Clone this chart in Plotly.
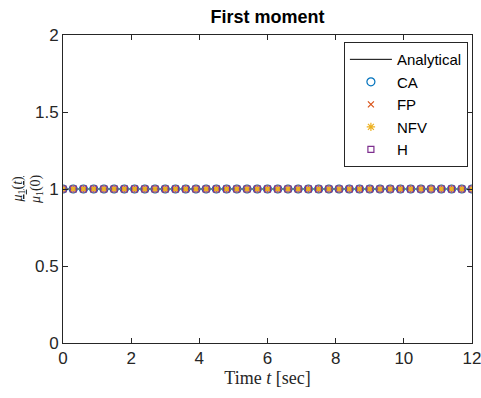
import plotly.graph_objects as go

t = [round(0.3 * i, 1) for i in range(41)]
analytical = [1.0] * len(t)
ca = [1.0] * len(t)
fp = [1.0] * len(t)
nfv = [1.0] * len(t)
h = [1.0] * len(t)

x_ticks = [0, 2, 4, 6, 8, 10, 12]
y_ticks = [0, 0.5, 1, 1.5, 2]
y_tick_text = ["0", "0.5", "1", "1.5", "2"]

fig = go.Figure()
fig.add_trace(go.Scatter(x=t, y=analytical, mode="lines", name="Analytical",
                         line=dict(color="black", width=1)))
fig.add_trace(go.Scatter(x=t, y=ca, mode="markers", name="CA",
                         marker=dict(symbol="circle-open", size=8, color="#0072BD",
                                     line=dict(width=1.2, color="#0072BD"))))
fig.add_trace(go.Scatter(x=t, y=fp, mode="markers", name="FP",
                         marker=dict(symbol="x-thin-open", size=6, color="#D95319",
                                     line=dict(width=1.2, color="#D95319"))))
fig.add_trace(go.Scatter(x=t, y=nfv, mode="markers", name="NFV",
                         marker=dict(symbol="asterisk-open", size=7, color="#EDB120",
                                     line=dict(width=1.2, color="#EDB120"))))
fig.add_trace(go.Scatter(x=t, y=h, mode="markers", name="H",
                         marker=dict(symbol="square-open", size=6, color="#7E2F8E",
                                     line=dict(width=1.2, color="#7E2F8E"))))

axis_common = dict(showgrid=False, zeroline=False, showline=True, linecolor="#262626",
                   linewidth=1, mirror="ticks", ticks="inside", ticklen=5,
                   tickcolor="#262626", automargin=False, ticklabeloverflow="allow",
                   tickfont=dict(family="Liberation Sans, Arial", size=17, color="#262626"))

fig.update_layout(
    width=481, height=398,
    margin=dict(l=63, r=9, t=35, b=55),
    paper_bgcolor="white", plot_bgcolor="white",
    title=dict(text="<b>First moment</b>", xref="paper", x=0.5, xanchor="center",
               yref="container", y=0.975, yanchor="top",
               font=dict(family="Liberation Sans, Arial", size=18, color="black")),
    showlegend=True,
    legend=dict(x=0.99, y=0.977, xanchor="right", yanchor="top",
                bordercolor="#262626", borderwidth=1, bgcolor="white",
                font=dict(family="Liberation Sans, Arial", size=15, color="black"),
                itemwidth=42, tracegroupgap=0),
    xaxis=dict(range=[0, 12], tickvals=x_ticks,
               title=dict(text="Time <i>t</i> [sec]", standoff=2,
                          font=dict(family="Liberation Serif, Times New Roman", size=18,
                                    color="#262626")),
               **axis_common),
    yaxis=dict(range=[0, 2], tickvals=y_ticks, ticktext=y_tick_text, **axis_common),
)

fig.add_annotation(
    text="<u><i>μ</i><sub>1</sub>(<i>t</i>)</u><br><i>μ</i><sub>1</sub>(0)",
    xref="paper", yref="paper", x=-0.088, y=0.5, xanchor="center", yanchor="middle",
    textangle=-90, showarrow=False,
    font=dict(family="Liberation Serif, Times New Roman", size=14, color="#262626"),
)

fig.write_html("out.html", config={"displayModeBar": False},
               post_script="document.body.style.margin='0';document.body.style.padding='0';")
